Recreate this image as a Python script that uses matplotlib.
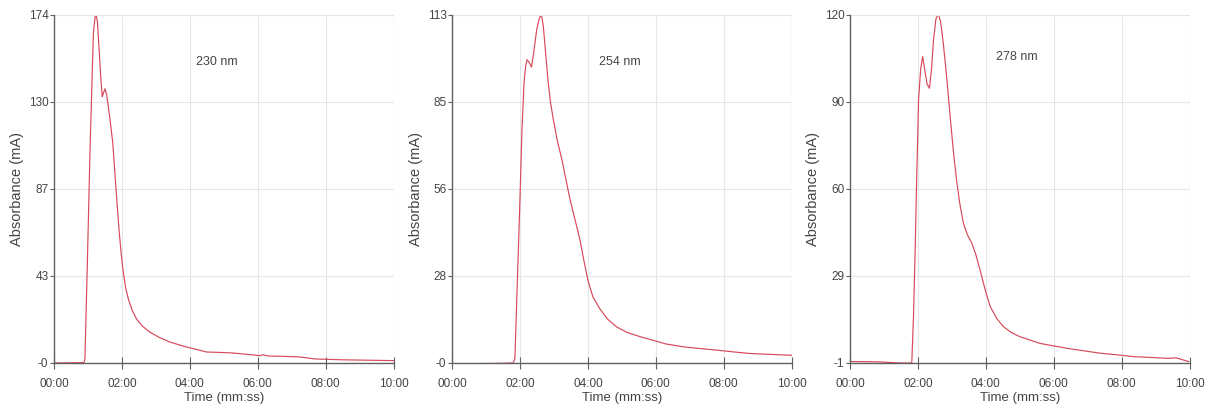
import matplotlib
matplotlib.use('Agg')
import matplotlib.pyplot as plt
from matplotlib.ticker import FixedLocator

plt.rcParams['font.family'] = ['Liberation Sans', 'DejaVu Sans']

# time (min) / absorbance (mA)
t_230 = [0.0, 0.5, 0.88, 0.91, 0.98, 1.06, 1.16, 1.21, 1.24, 1.28, 1.33, 1.38,
         1.42, 1.46, 1.50, 1.55, 1.60, 1.66, 1.73, 1.82, 1.92, 1.98, 2.04, 2.11,
         2.19, 2.30, 2.43, 2.60, 2.82, 3.10, 3.41, 3.90, 4.20, 4.49, 4.90,
         5.27, 5.70, 6.06, 6.15, 6.30, 6.80, 7.24, 7.70, 8.50, 9.20, 10.0]
a_230 = [-0.5, -0.4, -0.3, 1.5, 48.0, 106.0, 165.0, 173.0, 174.5, 170.0, 156.0, 142.0,
         133.0, 135.0, 137.0, 134.0, 128.0, 120.0, 110.0, 88.0, 65.0, 54.0, 45.0, 37.0,
         31.5, 26.0, 21.5, 18.0, 15.0, 12.3, 10.0, 7.5, 6.3, 5.0, 4.8,
         4.5, 3.8, 3.2, 3.6, 3.0, 2.8, 2.5, 1.5, 1.1, 0.9, 0.7]

t_254 = [0.0, 0.8, 1.50, 1.80, 1.85, 1.92, 2.00, 2.06, 2.12, 2.17, 2.21, 2.27,
         2.34, 2.42, 2.49, 2.56, 2.61, 2.65, 2.69, 2.76, 2.83, 2.90, 2.98, 3.10,
         3.23, 3.47, 3.76, 3.88, 4.01, 4.15, 4.35, 4.58, 4.84, 5.15, 5.53, 6.30,
         6.80, 7.30, 7.79, 8.30, 8.76, 9.40, 10.0]
a_254 = [-0.8, -0.7, -0.6, -0.5, 1.0, 25.0, 53.0, 76.0, 91.0, 96.5, 98.4, 97.5,
         96.0, 102.0, 108.0, 111.5, 113.0, 112.0, 109.0, 100.0, 91.0, 84.5, 79.0, 72.0,
         66.0, 53.0, 40.0, 33.0, 26.0, 21.0, 17.2, 13.8, 11.3, 9.5, 8.1, 5.7,
         4.8, 4.2, 3.7, 3.1, 2.6, 2.3, 2.0]

t_278 = [0.0, 0.8, 1.47, 1.70, 1.82, 1.87, 1.92, 1.97, 2.02, 2.08, 2.14, 2.20,
         2.27, 2.34, 2.40, 2.46, 2.53, 2.60, 2.67, 2.75, 2.85, 2.95, 3.05, 3.15,
         3.24, 3.34, 3.46, 3.59, 3.71, 3.83, 3.98, 4.13, 4.32, 4.52, 4.75, 5.01,
         5.60, 6.39, 6.90, 7.37, 7.90, 8.36, 8.90, 9.34, 9.60, 9.97]
a_278 = [-0.5, -0.6, -1.0, -1.0, -1.0, 15.0, 38.3, 66.0, 90.4, 101.0, 105.5, 101.0,
         96.0, 94.5, 101.0, 111.3, 118.5, 120.6, 117.5, 110.0, 98.0, 84.6, 72.0, 61.5,
         54.0, 47.6, 43.5, 40.6, 36.5, 31.3, 24.5, 18.6, 14.5, 11.6, 9.6, 8.1,
         5.8, 4.1, 3.2, 2.4, 1.8, 1.2, 0.9, 0.6, 0.8, -0.5]

wavelengths = ['230 nm', '254 nm', '278 nm']
y_limits = [(-0.5, 174.0), (-0.5, 113.0), (-1.0, 120.0)]
y_labels = [['-0', '43', '87', '130', '174'],
            ['-0', '28', '56', '85', '113'],
            ['-1', '29', '60', '90', '120']]
x_ticks = [0, 2, 4, 6, 8, 10]
x_labels = ['00:00', '02:00', '04:00', '06:00', '08:00', '10:00']

series = [(t_230, a_230), (t_254, a_254), (t_278, a_278)]
lefts = [0.0447, 0.3742, 0.7036]
label_pos = [(0.48, 0.865), (0.494, 0.865), (0.49, 0.88)]

fig = plt.figure(figsize=(12.08, 4.09), dpi=100)

for i, (t, a) in enumerate(series):
    ax = fig.add_axes([lefts[i], 0.1125, 0.2812, 0.851])
    lo, hi = y_limits[i]
    ax.plot(t, a, color='#d8485a', lw=0.85)
    ax.set_xlim(0, 10)
    ax.set_ylim(lo, hi)

    yt = [lo + k * (hi - lo) / 4 for k in range(5)]
    ax.yaxis.set_major_locator(FixedLocator(yt))
    ax.set_yticklabels(y_labels[i])
    ax.set_xticks(x_ticks)
    ax.set_xticklabels(x_labels)

    ax.grid(True, color='#e6e6e6', lw=0.8)
    for side in ['top', 'right']:
        ax.spines[side].set_visible(False)
    for side in ['left', 'bottom']:
        ax.spines[side].set_color('#606060')
        ax.spines[side].set_linewidth(1.0)
    ax.axhline(hi, color='#e6e6e6', lw=0.8)
    ax.axvline(10, color='#e6e6e6', lw=0.8)

    ax.tick_params(axis='x', direction='inout', length=8, width=0.8,
                   colors='#606060', labelcolor='#444444', labelsize=8.5, pad=7)
    ax.tick_params(axis='y', direction='out', length=3, width=0.8,
                   colors='#606060', labelcolor='#444444', labelsize=8.5, pad=1)

    ax.set_xlabel('Time (mm:ss)', fontsize=9.5, color='#444444', labelpad=1)
    ax.set_ylabel('Absorbance (mA)', fontsize=10.5, color='#444444', labelpad=3)
    ax.text(label_pos[i][0], label_pos[i][1], wavelengths[i], transform=ax.transAxes,
            fontsize=9, color='#444444', ha='center', va='center')

fig.savefig('out.png', dpi=100)
